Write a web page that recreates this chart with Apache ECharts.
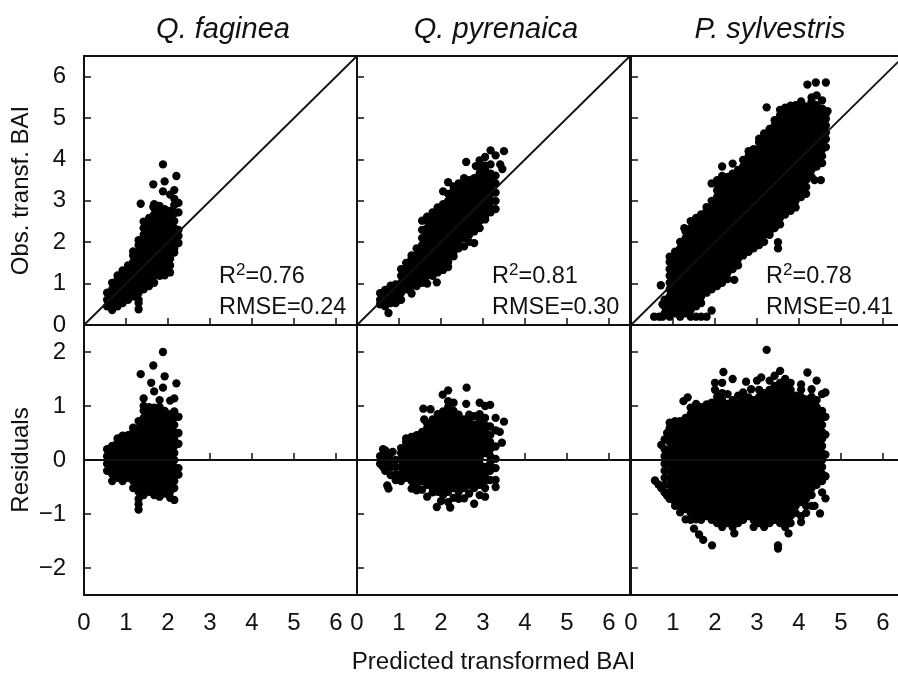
<!DOCTYPE html>
<html>
<head>
<meta charset="utf-8">
<title>Observed and residual BAI</title>
<script src="https://cdn.jsdelivr.net/npm/echarts@6/dist/echarts.min.js"></script>
<style>
html,body{margin:0;padding:0;background:#fff;overflow:hidden}
#main{width:898px;height:673px}
</style>
</head>
<body>
<div id="main"></div>
<script>
// each row: predicted value, then the values read at that predicted value
var fagineaObs = [
[.55,.45,.61,.78],
[.67,.36,.53,.69,.86,1.02],
[.8,.45,.61,.78,.94,1.11,1.2],
[.92,.53,.69,.86,1.02,1.19,1.32],
[1.05,.61,.78,.94,1.11,1.27,1.44],
[1.17,.69,.86,1.02,1.19,1.35,1.52,1.68,1.78],
[1.3,.38,.53,.61,.78,.94,1.11,1.27,1.44,1.6,1.77,1.93,2.05],
[1.35,2.93],
[1.42,.86,1.02,1.19,1.35,1.52,1.68,1.85,2.01,2.18,2.34,2.5],
[1.55,.94,1.11,1.27,1.44,1.6,1.77,1.93,2.1,2.26,2.43,2.59],
[1.65,3.4,2.85],
[1.67,1.02,1.19,1.35,1.52,1.68,1.85,2.01,2.18,2.34,2.51,2.67,2.84,2.92],
[1.8,1.19,1.27,1.44,1.6,1.77,1.93,2.1,2.26,2.43,2.59,2.76,2.88],
[1.88,3.88,3.23],
[1.92,1.2,1.35,1.52,1.68,1.85,2.01,2.18,2.34,2.51,2.67,2.8,3.47],
[2.05,1.27,1.44,1.6,1.77,1.93,2.1,2.26,2.43,2.59,2.76,3.15],
[2.15,1.75,1.85,2.01,2.18,2.34,2.51,2.7,2.9,3.05,3.26],
[2.2,3.6],
[2.25,1.98,2.15,2.3,2.72,2.95]
];
var fagineaRes = [
[.55,-.2,-.07,.07,.2],
[.67,-.39,-.26,-.13,0,.13,.26],
[.8,-.33,-.2,-.07,.07,.2,.33,.4],
[.92,-.39,-.26,-.13,0,.13,.26,.39,.45],
[1.05,-.33,-.2,-.07,.07,.2,.33,.46],
[1.17,-.52,-.39,-.26,-.13,0,.13,.26,.39,.52,.6],
[1.3,-.92,-.82,-.72,-.59,-.46,-.33,-.2,-.07,.07,.2,.33,.46,.59,.72],
[1.35,1.59],
[1.42,-.65,-.52,-.39,-.26,-.13,0,.13,.26,.39,.52,.65,.78,.91,1.0,1.14],
[1.55,-.59,-.46,-.33,-.2,-.07,.07,.2,.33,.46,.59,.72,.85,.98],
[1.6,1.43],
[1.65,1.75],
[1.67,-.65,-.52,-.39,-.26,-.13,0,.13,.26,.39,.52,.65,.78,.91,.97,1.27],
[1.8,-.68,-.59,-.46,-.33,-.2,-.07,.07,.2,.33,.46,.59,.72,.85,.98,1.11],
[1.88,2.0,1.34],
[1.92,-.62,-.52,-.39,-.26,-.13,0,.13,.26,.39,.52,.65,.78,.91,1.55],
[2.05,-.7,-.59,-.46,-.33,-.2,-.07,.07,.2,.33,.46,.59,.72,.85,1.1],
[2.15,-.74,-.52,-.39,-.26,-.13,0,.13,.26,.39,.52,.65,.78,.9,1.14],
[2.2,1.42],
[2.25,-.27,-.15,.3,.5,.8]
];
var pyrenaicaObs = [
[.55,.5,.61,.77],
[.67,.45,.61,.78,.85],
[.75,.29],
[.8,.53,.69,.86,.95],
[.92,.53,.69,.86,.98],
[1.05,.61,.78,.85,1.02,1.19,1.35],
[1.17,.86,1.02,1.19,1.35,1.5],
[1.3,.76,.94,1.11,1.27,1.44,1.6,1.68],
[1.42,.94,1.02,1.19,1.35,1.52,1.68,1.85],
[1.55,1.02,1.11,1.27,1.44,1.6,1.77,1.93,2.1,2.3,2.52],
[1.67,1.0,1.19,1.35,1.52,1.68,1.85,2.01,2.18,2.34,2.51,2.62],
[1.8,1.19,1.27,1.44,1.6,1.77,1.93,2.1,2.26,2.43,2.59,2.72],
[1.9,1.03],
[1.92,1.27,1.35,1.52,1.68,1.85,2.01,2.18,2.34,2.51,2.67,2.84],
[2.05,1.33,1.44,1.6,1.77,1.93,2.1,2.26,2.43,2.59,2.76,2.92,3.23],
[2.17,1.4,1.52,1.68,1.85,2.01,2.18,2.34,2.51,2.67,2.84,3.0,3.17,3.45],
[2.3,1.66,1.77,1.93,2.1,2.26,2.43,2.59,2.76,2.92,3.09,3.25,3.35],
[2.42,1.85,2.01,2.18,2.34,2.51,2.67,2.84,3.0,3.17,3.33,3.42],
[2.55,1.9,2.1,2.26,2.43,2.59,2.76,2.92,3.09,3.25,3.42,3.55],
[2.6,3.94],
[2.67,2.01,2.18,2.34,2.51,2.67,2.84,3.0,3.17,3.33,3.5],
[2.79,1.98,2.26,2.43,2.59,2.76,2.92,3.09,3.25,3.42,3.55],
[2.83,3.84],
[2.92,2.34,2.51,2.67,2.84,3.0,3.17,3.33,3.5,3.66,3.8,3.98],
[3.05,2.55,2.59,2.76,2.92,3.09,3.25,3.42,3.58,3.75,3.85,4.06],
[3.18,2.72,2.84,3.0,3.17,3.33,3.5,3.66,3.88,4.22],
[3.3,2.8,3.0,3.2,3.42,3.61,4.1],
[3.41,3.88],
[3.46,3.77],
[3.5,4.2]
];
var pyrenaicaRes = [
[.55,-.07,.07],
[.62,.2,-.13],
[.67,-.2,-.07,.07,.18],
[.72,-.47],
[.75,-.53],
[.8,-.28,-.13,0,.13],
[.85,.15],
[.92,-.37,-.26,-.13,0],
[1.05,-.39,-.26,-.13,0,.13,.22],
[1.17,-.33,-.2,-.07,.07,.2,.33,.4],
[1.3,-.53,-.39,-.26,-.13,0,.13,.26,.39,.43],
[1.42,-.56,-.46,-.33,-.2,-.07,.07,.2,.33,.46],
[1.55,-.55,-.39,-.26,-.13,0,.13,.26,.39,.52],
[1.58,.95],
[1.6,.75],
[1.67,-.68,-.46,-.33,-.2,-.07,.07,.2,.33,.46,.59,.68],
[1.75,.94],
[1.8,-.6,-.52,-.39,-.26,-.13,0,.13,.26,.39,.52,.65,.75],
[1.9,-.87],
[1.92,-.59,-.46,-.33,-.2,-.07,.07,.2,.33,.46,.59,.72,.85],
[2.0,-.76],
[2.04,1.21],
[2.05,-.65,-.52,-.39,-.26,-.13,0,.13,.26,.39,.52,.65,.78,.9],
[2.17,-.78,-.59,-.46,-.33,-.2,-.07,.07,.2,.33,.46,.59,.72,.85,.98,1.09,1.29],
[2.22,-.88],
[2.3,-.7,-.52,-.39,-.26,-.13,0,.13,.26,.39,.52,.65,.78,.91,1.06],
[2.42,-.72,-.59,-.46,-.33,-.2,-.07,.07,.2,.33,.46,.59,.72,.84],
[2.55,-.71,-.52,-.39,-.26,-.13,0,.13,.26,.39,.52,.65,.75],
[2.6,1.04],
[2.61,1.34],
[2.67,-.62,-.46,-.33,-.2,-.07,.07,.2,.33,.46,.59,.72,.84],
[2.79,-.81,-.52,-.39,-.26,-.13,0,.13,.26,.39,.52,.65,.81],
[2.92,-.65,-.46,-.33,-.2,-.07,.07,.2,.33,.46,.59,.72,.85,1.06],
[3.05,-.68,-.52,-.39,-.26,-.13,.13,.26,.39,.52,.65,.78,1.0],
[3.17,-.37,-.2,-.07,.07,.2,.33,.46,.62,1.02],
[3.3,-.5,-.37,-.15,.02,.25,.55,.78],
[3.4,.52],
[3.45,.32],
[3.5,.71]
];
var sylvestrisObs = [
[.55,.2],
[.67,.2],
[.71,.96],
[.75,.2,.5],
[.8,.28,.45,.61],
[.92,.2,.36,.53,.69,.86,1.02,1.19,1.35,1.52,1.65],
[1.05,.28,.45,.61,.78,.94,1.11,1.27,1.44,1.6,1.77],
[1.17,.2,.36,.53,.69,.86,1.02,1.19,1.35,1.52,1.68,1.85,2.01],
[1.27,2.34],
[1.3,.28,.45,.61,.78,.94,1.11,1.27,1.44,1.6,1.77,1.93,2.1,2.26],
[1.42,.2,.36,.53,.69,.86,1.02,1.19,1.35,1.52,1.68,1.85,2.01,2.18,2.34,2.51],
[1.55,.2,.45,.61,.78,.94,1.11,1.27,1.44,1.6,1.77,1.93,2.1,2.26,2.43,2.59],
[1.67,.2,.53,.69,.86,1.02,1.19,1.35,1.52,1.68,1.85,2.01,2.18,2.34,2.51,2.67],
[1.8,.2,.78,.94,1.11,1.27,1.44,1.6,1.77,1.93,2.1,2.26,2.43,2.59,2.76,2.85],
[1.92,.35,.86,1.02,1.19,1.35,1.52,1.68,1.85,2.01,2.18,2.34,2.51,2.67,2.84,3.0,3.42],
[2.05,.94,1.11,1.27,1.44,1.6,1.77,1.93,2.1,2.26,2.43,2.59,2.76,2.92,3.09,3.25,3.42,3.5],
[2.17,1.02,1.19,1.35,1.52,1.68,1.85,2.01,2.18,2.34,2.51,2.67,2.84,3.0,3.17,3.33,3.5,3.6,3.83],
[2.3,1.11,1.27,1.44,1.6,1.77,1.93,2.1,2.26,2.43,2.59,2.76,2.92,3.09,3.25,3.42,3.58],
[2.42,1.35,1.52,1.68,1.85,2.01,2.18,2.34,2.51,2.67,2.84,3.0,3.17,3.33,3.5,3.66,3.9],
[2.46,1.09],
[2.55,1.44,1.6,1.77,1.93,2.1,2.26,2.43,2.59,2.76,2.92,3.09,3.25,3.42,3.58,3.75],
[2.67,1.68,1.85,2.01,2.18,2.34,2.51,2.67,2.84,3.0,3.17,3.33,3.5,3.66,3.83,3.99],
[2.8,1.77,1.93,2.1,2.26,2.43,2.59,2.76,2.92,3.09,3.25,3.42,3.58,3.75,3.91,4.08,4.2],
[2.92,1.85,2.01,2.18,2.34,2.51,2.67,2.84,3.0,3.17,3.33,3.5,3.66,3.83,3.99,4.16,4.25],
[3.05,1.93,2.1,2.26,2.43,2.59,2.76,2.92,3.09,3.25,3.42,3.58,3.75,3.91,4.08,4.24,4.41,4.5],
[3.17,2.01,2.18,2.34,2.51,2.67,2.84,3.0,3.17,3.33,3.5,3.66,3.83,3.99,4.16,4.32,4.49,4.63],
[3.23,5.26],
[3.3,2.18,2.26,2.43,2.59,2.76,2.92,3.09,3.25,3.42,3.58,3.75,3.91,4.08,4.24,4.41,4.57,4.74],
[3.42,2.34,2.51,2.67,2.84,3.0,3.17,3.33,3.5,3.66,3.83,3.99,4.16,4.32,4.49,4.65,4.82,4.95],
[3.5,1.85,2.0],
[3.55,2.43,2.59,2.76,2.92,3.09,3.25,3.42,3.58,3.75,3.91,4.08,4.24,4.41,4.57,4.74,4.9,5.07,5.2],
[3.67,2.67,2.84,3.0,3.17,3.33,3.5,3.66,3.83,3.99,4.16,4.32,4.49,4.65,4.82,4.98,5.15,5.25],
[3.8,2.76,2.92,3.09,3.25,3.42,3.58,3.75,3.91,4.08,4.24,4.41,4.57,4.74,4.9,5.07,5.23,5.3],
[3.92,2.84,3.0,3.17,3.33,3.5,3.66,3.83,3.99,4.16,4.32,4.49,4.65,4.82,4.98,5.15,5.31],
[4.05,3.09,3.25,3.42,3.58,3.75,3.91,4.08,4.24,4.41,4.57,4.74,4.9,5.07,5.23,5.4],
[4.17,3.17,3.33,3.5,3.66,3.83,3.99,4.16,4.32,4.49,4.65,4.82,4.98,5.15,5.28],
[4.2,5.81],
[4.3,3.58,3.75,3.91,4.08,4.24,4.41,4.57,4.74,4.9,5.07,5.23,5.4,5.5],
[4.37,3.5],
[4.4,5.86],
[4.42,3.83,3.99,4.16,4.32,4.49,4.65,4.82,4.98,5.15,5.31,5.55],
[4.52,3.5],
[4.55,3.91,4.08,4.24,4.41,4.57,4.74,4.9,5.07,5.23,5.43],
[4.64,4.3,4.49,4.65,4.82,4.98,5.1,5.86],
[4.68,5.17]
];
var sylvestrisRes = [
[.57,-.38],
[.65,-.45],
[.72,-.52,.28],
[.8,-.6,-.46,-.33,-.2,-.07,.07,.2,.38],
[.86,-.66,.5],
[.92,-.72,-.59,-.46,-.33,-.2,-.07,.07,.2,.33,.46,.59,.69],
[1.05,-.85,-.78,-.65,-.52,-.39,-.26,-.13,0,.13,.26,.39,.52,.65,.72],
[1.17,-.97,-.85,-.72,-.59,-.46,-.33,-.2,-.07,.07,.2,.33,.46,.59,.72],
[1.25,1.09],
[1.3,-1.1,-.91,-.78,-.65,-.52,-.39,-.26,-.13,0,.13,.26,.39,.52,.65,.78],
[1.35,1.16],
[1.42,-1.11,-.98,-.85,-.72,-.59,-.46,-.33,-.2,-.07,.07,.2,.33,.46,.59,.72,.85,.97],
[1.5,-1.27],
[1.55,-1.1,-1.04,-.91,-.78,-.65,-.52,-.39,-.26,-.13,0,.13,.26,.39,.52,.65,.78,.91,1.04],
[1.62,-1.38],
[1.67,-1.11,-.98,-.85,-.72,-.59,-.46,-.33,-.2,-.07,.07,.2,.33,.46,.59,.72,.85,.98],
[1.72,-1.48],
[1.8,-1.04,-.91,-.78,-.65,-.52,-.39,-.26,-.13,0,.13,.26,.39,.52,.65,.78,.91,1.03],
[1.92,-1.11,-.98,-.85,-.72,-.59,-.46,-.33,-.2,-.07,.07,.2,.33,.46,.59,.72,.85,.98,1.06],
[1.93,-1.58],
[2.0,1.43,1.3],
[2.05,-1.17,-1.04,-.91,-.78,-.65,-.52,-.39,-.26,-.13,0,.13,.26,.39,.52,.65,.78,.91,1.04,1.17],
[2.17,-1.24,-1.11,-.98,-.85,-.72,-.59,-.46,-.33,-.2,-.07,.07,.2,.33,.46,.59,.72,.85,.98,1.11,1.24,1.43],
[2.2,1.63],
[2.3,-1.17,-1.04,-.91,-.78,-.65,-.52,-.39,-.26,-.13,0,.13,.26,.39,.52,.65,.78,.91,1.04,1.22],
[2.42,-1.24,-1.11,-.98,-.85,-.72,-.59,-.46,-.33,-.2,-.07,.07,.2,.33,.46,.59,.72,.85,.98,1.11,1.5],
[2.46,-1.36],
[2.55,-1.17,-1.04,-.91,-.78,-.65,-.52,-.39,-.26,-.13,0,.13,.26,.39,.52,.65,.78,.91,1.04,1.19],
[2.67,-1.11,-.98,-.85,-.72,-.59,-.46,-.33,-.2,-.07,.07,.2,.33,.46,.59,.72,.85,.98,1.11,1.25],
[2.74,1.45],
[2.8,-1.04,-.91,-.78,-.65,-.52,-.39,-.26,-.13,0,.13,.26,.39,.52,.65,.78,.91,1.04,1.16],
[2.86,1.31],
[2.92,-1.24,-1.11,-.98,-.85,-.72,-.59,-.46,-.33,-.2,-.07,.07,.2,.33,.46,.59,.72,.85,.98,1.11],
[3.0,1.47],
[3.05,-1.17,-1.04,-.91,-.78,-.65,-.52,-.39,-.26,-.13,0,.13,.26,.39,.52,.65,.78,.91,1.04,1.17,1.3],
[3.1,1.53],
[3.17,-1.24,-1.11,-.98,-.85,-.72,-.59,-.46,-.33,-.2,-.07,.07,.2,.33,.46,.59,.72,.85,.98,1.11,1.24],
[3.23,2.04],
[3.3,-1.17,-1.04,-.91,-.78,-.65,-.52,-.39,-.26,-.13,0,.13,.26,.39,.52,.65,.78,.91,1.04,1.17,1.3,1.47],
[3.42,-1.11,-.98,-.85,-.72,-.59,-.46,-.33,-.2,-.07,.07,.2,.33,.46,.59,.72,.85,.98,1.11,1.24,1.37,1.56],
[3.5,-1.64,-1.58],
[3.55,-1.17,-1.04,-.91,-.78,-.65,-.52,-.39,-.26,-.13,0,.13,.26,.39,.52,.65,.78,.91,1.04,1.17,1.3,1.43,1.65],
[3.67,-1.24,-1.11,-.98,-.85,-.72,-.59,-.46,-.33,-.2,-.07,.07,.2,.33,.46,.59,.72,.85,.98,1.11,1.24,1.37,1.5],
[3.75,-1.36],
[3.8,-1.17,-1.04,-.91,-.78,-.65,-.52,-.39,-.26,-.13,0,.13,.26,.39,.52,.65,.78,.91,1.04,1.17,1.3,1.43],
[3.92,-.98,-.85,-.72,-.59,-.46,-.33,-.2,-.07,.07,.2,.33,.46,.59,.72,.85,.98,1.11,1.19],
[4.05,-1.15,-1.04,-.78,-.65,-.52,-.39,-.26,-.13,0,.13,.26,.39,.52,.65,.78,.91,1.04,1.17,1.3,1.4],
[4.17,-.98,-.85,-.72,-.59,-.46,-.33,-.2,-.07,.07,.2,.33,.46,.59,.72,.85,.98,1.12],
[4.2,1.62],
[4.3,-.85,-.65,-.52,-.39,-.26,-.13,0,.13,.26,.39,.52,.65,.78,.91,1.04,1.17,1.31],
[4.37,-.85],
[4.42,-.46,-.33,-.2,-.07,.07,.2,.33,.46,.59,.72,.85,.98,1.11,1.47],
[4.5,-.99],
[4.55,-.6,-.39,-.26,-.13,0,.13,.26,.39,.52,.65,.78,.91,1.22],
[4.63,-.71,-.3,.1,.47,.8,1.25]
];

var panelNames = ['Q. faginea', 'Q. pyrenaica', 'P. sylvestris'];
var r2Labels = ['0.76', '0.81', '0.78'];
var rmseLabels = ['0.24', '0.30', '0.41'];
var xTicks = [0, 1, 2, 3, 4, 5, 6];
var obsTicks = [0, 1, 2, 3, 4, 5, 6];
var resTicks = [-2, -1, 0, 1, 2];
var oneToOne = [[0, 0], [6.5, 6.5]];
var zeroLine = [[0, 0], [6.5, 0]];

var obsRows = [fagineaObs, pyrenaicaObs, sylvestrisObs];
var resRows = [fagineaRes, pyrenaicaRes, sylvestrisRes];

function toPoints(rows) {
  var pts = [];
  rows.forEach(function (r) {
    for (var i = 1; i < r.length; i++) pts.push([r[0], r[i]]);
  });
  return pts;
}

var ink = '#111';
var fontName = '"Liberation Sans", Arial, sans-serif';
var lefts = [84, 357, 631];

var grids = [], xAxes = [], yAxes = [], series = [], titles = [];

for (var row = 0; row < 2; row++) {
  for (var col = 0; col < 3; col++) {
    var idx = grids.length;
    grids.push({
      left: lefts[col], width: 273,
      top: row === 0 ? 56 : 325, height: row === 0 ? 269 : 270,
      outerBoundsMode: 'none',
      show: true, borderColor: ink, borderWidth: 2, backgroundColor: 'transparent'
    });
    xAxes.push({
      type: 'value', gridIndex: idx, min: 0, max: 6.5,
      axisLine: { show: false },
      axisTick: { show: true, inside: true, length: 7, customValues: xTicks, lineStyle: { color: ink, width: 1.5 } },
      axisLabel: {
        show: row === 1, customValues: xTicks, margin: 16, hideOverlap: false,
        color: ink, fontSize: 24, fontFamily: fontName
      },
      splitLine: { show: false },
      name: row === 1 && col === 1 ? 'Predicted transformed BAI' : '',
      nameLocation: 'middle', nameGap: 55,
      nameTextStyle: { color: ink, fontSize: 24.2, fontFamily: fontName }
    });
    yAxes.push({
      type: 'value', gridIndex: idx,
      min: row === 0 ? 0 : -2.5, max: row === 0 ? 6.5 : 2.5,
      axisLine: { show: false },
      axisTick: {
        show: true, inside: true, length: 7,
        customValues: row === 0 ? obsTicks : resTicks,
        lineStyle: { color: ink, width: 1.5 }
      },
      axisLabel: {
        show: col === 0, customValues: row === 0 ? obsTicks : resTicks, margin: 18, hideOverlap: false,
        color: ink, fontSize: 24, fontFamily: fontName,
        formatter: function (v) { return String(v).replace('-', '\u2212'); }
      },
      splitLine: { show: false },
      name: col === 0 ? (row === 0 ? 'Obs. transf. BAI' : 'Residuals') : '',
      nameLocation: 'middle', nameGap: 51, nameRotate: 90,
      nameTextStyle: { color: ink, fontSize: 24, fontFamily: fontName }
    });
    series.push({
      type: 'scatter', xAxisIndex: idx, yAxisIndex: idx, symbolSize: 8.3, silent: true,
      itemStyle: { color: '#000', opacity: 1 },
      data: toPoints(row === 0 ? obsRows[col] : resRows[col])
    });
    series.push({
      type: 'line', xAxisIndex: idx, yAxisIndex: idx, symbol: 'none', silent: true,
      lineStyle: { color: ink, width: 1.8 },
      data: row === 0 ? oneToOne : zeroLine
    });
  }
}

panelNames.forEach(function (name, i) {
  titles.push({
    text: name, left: lefts[i] + 134, top: 10, textAlign: 'center',
    textStyle: { color: ink, fontSize: 29, fontStyle: 'italic', fontWeight: 'normal', fontFamily: fontName }
  });
  titles.push({
    text: 'R{sup|2}=' + r2Labels[i], left: lefts[i] + 130, top: 260,
    textStyle: {
      color: ink, fontSize: 23.5, fontWeight: 'normal', fontFamily: fontName,
      rich: {
        sup: { fontSize: 17, verticalAlign: 'bottom', lineHeight: 17, color: ink, fontFamily: fontName, padding: [0, 0, 10, 0] }
      }
    }
  });
  titles.push({
    text: 'RMSE=' + rmseLabels[i], left: lefts[i] + 130, top: 291,
    textStyle: { color: ink, fontSize: 23.5, fontWeight: 'normal', fontFamily: fontName }
  });
});

var myChart = echarts.init(document.getElementById('main'), null, { renderer: 'canvas' });
myChart.setOption({
  backgroundColor: '#fff',
  animation: false,
  title: titles,
  grid: grids,
  xAxis: xAxes,
  yAxis: yAxes,
  series: series
});
</script>
</body>
</html>
